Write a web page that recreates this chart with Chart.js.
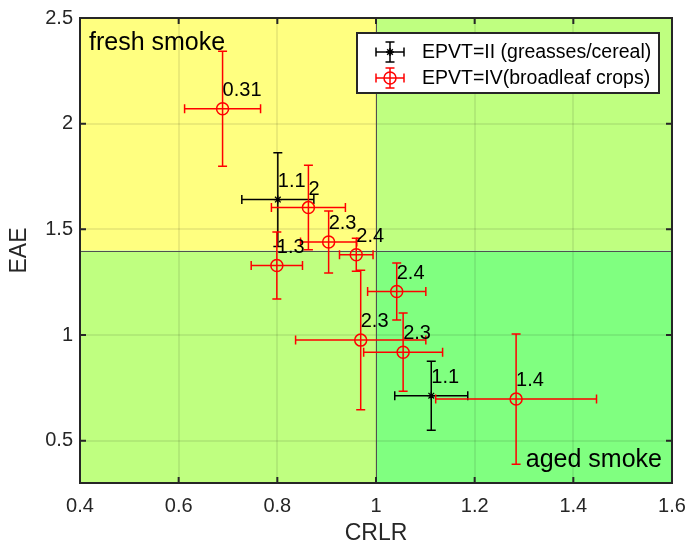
<!DOCTYPE html>
<html>
<head>
<meta charset="utf-8">
<script src="https://cdn.jsdelivr.net/npm/chart.js@4.4.1/dist/chart.umd.min.js"></script>
<style>
  html, body { margin: 0; padding: 0; background: #fff; }
  #wrap { width: 687px; height: 547px; }
</style>
</head>
<body>
<div id="wrap"><canvas id="chart"></canvas></div>
<script>
// Данные
const xTicks = [0.4, 0.6, 0.8, 1.0, 1.2, 1.4, 1.6];
const yTicks = [0.5, 1.0, 1.5, 2.0, 2.5];
const crlrSplit = 1.0;   // граница свежий/старый дым по CRLR
const eaeSplit = 1.4;    // граница по EAE

// EPVT=II (greasses/cereal)
const grassX    = [0.801, 1.112];
const grassY    = [1.641, 0.713];
const grassXErr = [0.073, 0.074];
const grassYErr = [0.222, 0.163];
const grassLabels = ['1.1', '1.1'];

// EPVT=IV (broadleaf crops)
const cropX    = [0.689, 0.863, 0.904, 0.960, 0.799, 1.042, 0.969, 1.055, 1.284];
const cropY    = [2.071, 1.603, 1.440, 1.380, 1.329, 1.206, 0.976, 0.919, 0.697];
const cropXErr = [0.077, 0.075, 0.057, 0.034, 0.052, 0.059, 0.132, 0.080, 0.163];
const cropYErr = [0.272, 0.200, 0.147, 0.078, 0.158, 0.135, 0.330, 0.185, 0.308];
const cropLabels = ['0.31', '2', '2.3', '2.4', '1.3', '2.4', '2.3', '2.3', '1.4'];

const FONT = 'Arial, "Liberation Sans", sans-serif';
const CAP = 4.5;

function toPoints(xs, ys, xe, ye, labels) {
    return xs.map((x, i) => ({ x: x, y: ys[i], xErr: xe[i], yErr: ye[i], label: labels[i] }));
}

// Фон по квадрантам
const quadrantPlugin = {
    id: 'quadrants',
    beforeDraw(chart) {
        const { ctx, chartArea: a, scales: { x, y } } = chart;
        const sx = x.getPixelForValue(crlrSplit);
        const sy = y.getPixelForValue(eaeSplit);
        ctx.save();
        ctx.fillStyle = '#ffff80';
        ctx.fillRect(a.left, a.top, sx - a.left, sy - a.top);
        ctx.fillStyle = '#bfff80';
        ctx.fillRect(sx, a.top, a.right - sx, sy - a.top);
        ctx.fillRect(a.left, sy, sx - a.left, a.bottom - sy);
        ctx.fillStyle = '#80ff80';
        ctx.fillRect(sx, sy, a.right - sx, a.bottom - sy);
        ctx.restore();
    },
    beforeDatasetsDraw(chart) {
        const { ctx, chartArea: a, scales: { x, y } } = chart;
        const sx = Math.round(x.getPixelForValue(crlrSplit)) + 0.5;
        const sy = Math.round(y.getPixelForValue(eaeSplit)) + 0.5;
        ctx.save();
        ctx.strokeStyle = '#505050';
        ctx.lineWidth = 1;
        ctx.beginPath();
        ctx.moveTo(sx, a.top); ctx.lineTo(sx, a.bottom);
        ctx.moveTo(a.left, sy); ctx.lineTo(a.right, sy);
        ctx.stroke();

        // рамка и внутренние засечки
        ctx.strokeStyle = '#262626';
        ctx.lineWidth = 2;
        ctx.beginPath();
        xTicks.forEach(v => {
            const px = x.getPixelForValue(v);
            ctx.moveTo(px, a.bottom); ctx.lineTo(px, a.bottom - 6);
            ctx.moveTo(px, a.top); ctx.lineTo(px, a.top + 6);
        });
        yTicks.forEach(v => {
            const py = y.getPixelForValue(v);
            ctx.moveTo(a.left, py); ctx.lineTo(a.left + 6, py);
            ctx.moveTo(a.right, py); ctx.lineTo(a.right - 6, py);
        });
        ctx.stroke();
        ctx.strokeRect(a.left, a.top, a.right - a.left, a.bottom - a.top);
        ctx.restore();
    }
};

function strokeErrorBar(ctx, px, py, x0, x1, y0, y1) {
    ctx.beginPath();
    ctx.moveTo(x0, py); ctx.lineTo(x1, py);
    ctx.moveTo(x0, py - CAP); ctx.lineTo(x0, py + CAP);
    ctx.moveTo(x1, py - CAP); ctx.lineTo(x1, py + CAP);
    ctx.moveTo(px, y0); ctx.lineTo(px, y1);
    ctx.moveTo(px - CAP, y0); ctx.lineTo(px + CAP, y0);
    ctx.moveTo(px - CAP, y1); ctx.lineTo(px + CAP, y1);
    ctx.stroke();
}

// Планки погрешностей рисуем перед каждым набором
const errorBarPlugin = {
    id: 'errorBars',
    beforeDatasetDraw(chart, args) {
        const { ctx, scales: { x, y } } = chart;
        const ds = chart.data.datasets[args.index];
        ctx.save();
        ctx.strokeStyle = ds.borderColor;
        ctx.lineWidth = 1.5;
        ds.data.forEach(p => {
            strokeErrorBar(ctx,
                x.getPixelForValue(p.x), y.getPixelForValue(p.y),
                x.getPixelForValue(p.x - p.xErr), x.getPixelForValue(p.x + p.xErr),
                y.getPixelForValue(p.y - p.yErr), y.getPixelForValue(p.y + p.yErr));
        });
        ctx.restore();
    },
    afterDatasetsDraw(chart) {
        const { ctx, chartArea: a, scales: { x, y } } = chart;
        ctx.save();
        ctx.fillStyle = '#000';
        ctx.font = '20px ' + FONT;
        ctx.textAlign = 'left';
        ctx.textBaseline = 'alphabetic';
        chart.data.datasets.forEach(ds => {
            ds.data.forEach(p => {
                ctx.fillText(p.label, x.getPixelForValue(p.x), y.getPixelForValue(p.y) - 13);
            });
        });
        ctx.font = '25px ' + FONT;
        ctx.fillText('fresh smoke', a.left + 9, a.top + 32);
        ctx.textAlign = 'right';
        ctx.fillText('aged smoke', a.right - 10, a.bottom - 16);
        ctx.restore();
    }
};

// Легенда в правом верхнем углу
const legendPlugin = {
    id: 'boxLegend',
    afterDraw(chart) {
        const { ctx, chartArea: a } = chart;
        const boxW = 302, boxH = 60;
        const left = a.right - 13 - boxW, top = a.top + 15;
        ctx.save();
        ctx.fillStyle = '#fff';
        ctx.fillRect(left, top, boxW, boxH);
        ctx.strokeStyle = '#262626';
        ctx.lineWidth = 2;
        ctx.strokeRect(left, top, boxW, boxH);

        ctx.font = '19.5px ' + FONT;
        ctx.textBaseline = 'middle';
        chart.data.datasets.slice().reverse().forEach((ds, i) => {
            const cy = top + 19 + i * 26;
            const cx = left + 33;
            ctx.strokeStyle = ds.borderColor;
            ctx.lineWidth = 1.5;
            strokeErrorBar(ctx, cx, cy, cx - 14, cx + 14, cy + 10, cy - 10);
            ctx.beginPath();
            if (ds.pointStyle === 'circle') {
                ctx.arc(cx, cy, 6, 0, Math.PI * 2);
            } else {
                for (let k = 0; k < 4; k++) {
                    const ang = k * Math.PI / 4;
                    ctx.moveTo(cx - 4 * Math.cos(ang), cy - 4 * Math.sin(ang));
                    ctx.lineTo(cx + 4 * Math.cos(ang), cy + 4 * Math.sin(ang));
                }
            }
            ctx.stroke();
            ctx.fillStyle = '#000';
            ctx.fillText(ds.label, left + 65, cy + 1);
        });
        ctx.restore();
    }
};

new Chart('chart', {
    type: 'scatter',
    data: {
        datasets: [
            {
                label: 'EPVT=IV(broadleaf crops)',
                data: toPoints(cropX, cropY, cropXErr, cropYErr, cropLabels),
                borderColor: '#ff0000',
                backgroundColor: 'rgba(0,0,0,0)',
                pointStyle: 'circle',
                pointRadius: 6,
                pointBorderWidth: 1.5,
                order: 1
            },
            {
                label: 'EPVT=II (greasses/cereal)',
                data: toPoints(grassX, grassY, grassXErr, grassYErr, grassLabels),
                borderColor: '#000000',
                backgroundColor: '#000000',
                pointStyle: 'star',
                pointRadius: 4,
                pointBorderWidth: 1.2,
                order: 2
            }
        ]
    },
    options: {
        responsive: true,
        maintainAspectRatio: false,
        animation: false,
        devicePixelRatio: 1,
        layout: { padding: { top: 18, right: 15, left: 0, bottom: 0 } },
        plugins: {
            legend: { display: false },
            tooltip: { enabled: false }
        },
        scales: {
            x: {
                type: 'linear',
                min: 0.4,
                max: 1.6,
                afterBuildTicks: scale => { scale.ticks = xTicks.map(v => ({ value: v })); },
                afterFit: scale => {
                    scale.height = 64;
                    scale.paddingLeft = 0;
                    scale.paddingRight = 0;
                },
                ticks: {
                    padding: 11,
                    color: '#262626',
                    font: { family: FONT, size: 20 },
                    callback: v => String(+v.toFixed(1))
                },
                grid: { color: 'rgba(0,0,0,0.08)', lineWidth: 2, drawTicks: false },
                border: { display: false },
                title: {
                    display: true,
                    text: 'CRLR',
                    color: '#262626',
                    font: { family: FONT, size: 23 },
                    padding: { top: 0, bottom: 0 }
                }
            },
            y: {
                type: 'linear',
                min: 0.3,
                max: 2.5,
                afterBuildTicks: scale => { scale.ticks = yTicks.map(v => ({ value: v })); },
                afterFit: scale => {
                    scale.width = 80;
                    scale.paddingTop = 0;
                    scale.paddingBottom = 0;
                },
                ticks: {
                    padding: 7,
                    color: '#262626',
                    font: { family: FONT, size: 20 },
                    callback: v => String(+v.toFixed(1))
                },
                grid: { color: 'rgba(0,0,0,0.08)', lineWidth: 2, drawTicks: false },
                border: { display: false },
                title: {
                    display: true,
                    text: 'EAE',
                    color: '#262626',
                    font: { family: FONT, size: 23 },
                    padding: { top: 6, bottom: 0 }
                }
            }
        }
    },
    plugins: [quadrantPlugin, errorBarPlugin, legendPlugin]
});
</script>
</body>
</html>
